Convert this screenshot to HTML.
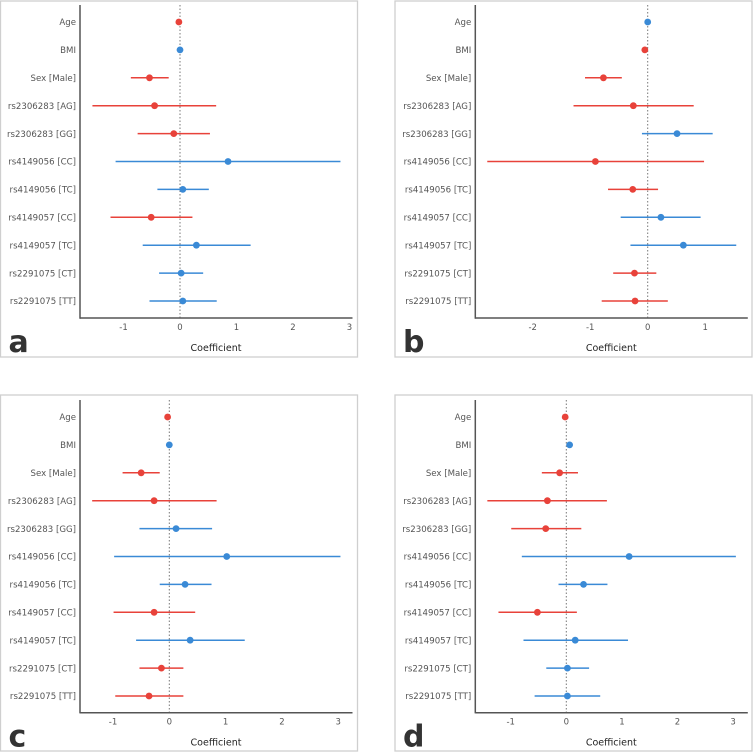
<!DOCTYPE html>
<html><head><meta charset="utf-8">
<style>
html,body{margin:0;padding:0;background:#fff;}
svg{display:block;font-family:"DejaVu Sans","Liberation Sans",sans-serif;}
</style></head>
<body>
<svg id="chart" width="753" height="753" viewBox="0 0 753 753"></svg>
<script>
const categories = ["Age","BMI","Sex [Male]","rs2306283 [AG]","rs2306283 [GG]","rs4149056 [CC]","rs4149056 [TC]","rs4149057 [CC]","rs4149057 [TC]","rs2291075 [CT]","rs2291075 [TT]"];
const ticks = [-3,-2,-1,0,1,2,3];

const estA = [-0.02,0,-0.54,-0.45,-0.11,0.85,0.05,-0.51,0.29,0.02,0.05];
const lowA = [-0.02,0,-0.87,-1.55,-0.75,-1.14,-0.40,-1.23,-0.66,-0.37,-0.54];
const highA = [-0.02,0,-0.20,0.64,0.53,2.84,0.51,0.22,1.25,0.41,0.65];

const estB = [0.0,-0.05,-0.77,-0.25,0.51,-0.91,-0.26,0.23,0.62,-0.23,-0.22];
const lowB = [0.0,-0.05,-1.09,-1.29,-0.10,-2.79,-0.69,-0.47,-0.30,-0.60,-0.80];
const highB = [0.0,-0.05,-0.45,0.80,1.13,0.98,0.18,0.92,1.54,0.15,0.35];

const estC = [-0.03,0,-0.50,-0.27,0.12,1.02,0.28,-0.27,0.37,-0.14,-0.36];
const lowC = [-0.03,0,-0.83,-1.37,-0.53,-0.98,-0.17,-0.99,-0.59,-0.53,-0.96];
const highC = [-0.03,0,-0.17,0.84,0.76,3.04,0.75,0.46,1.34,0.25,0.25];

const estD = [-0.02,0.06,-0.12,-0.34,-0.37,1.13,0.31,-0.52,0.16,0.02,0.02];
const lowD = [-0.02,0.06,-0.44,-1.42,-0.99,-0.80,-0.14,-1.22,-0.77,-0.36,-0.57];
const highD = [-0.02,0.06,0.21,0.73,0.27,3.05,0.74,0.19,1.11,0.41,0.61];

const panels = [
 {id:"a",fx:0.5,fy:1,ax:80,x0:180,ppu:56.5,top:5,bottom:318,est:estA,low:lowA,high:highA,tmin:-1,tmax:3},
 {id:"b",fx:395,fy:1,ax:475.3,x0:647.7,ppu:57.5,top:5,bottom:318,est:estB,low:lowB,high:highB,tmin:-2,tmax:1},
 {id:"c",fx:0.5,fy:395,ax:80,x0:169.3,ppu:56.3,top:400,bottom:712.7,est:estC,low:lowC,high:highC,tmin:-1,tmax:3},
 {id:"d",fx:395,fy:395,ax:475.3,x0:566.3,ppu:55.6,top:400,bottom:712.7,est:estD,low:lowD,high:highD,tmin:-1,tmax:3}
];
const RED="#e8423a", BLUE="#3a8ad6";
const NS="http://www.w3.org/2000/svg";
const svg=document.getElementById("chart");
function mk(tag,attrs,parent){const e=document.createElementNS(NS,tag);for(const k in attrs)e.setAttribute(k,attrs[k]);(parent||svg).appendChild(e);return e;}

panels.forEach(p=>{
  const g=mk("g",{});
  
  
  const fr=mk("rect",{x:p.fx,y:p.fy,width:357,height:356,fill:"none",stroke:"#cfcfcf","stroke-width":1.3},g);
  
  
  const right=p.ax+272.5;
  const xs=v=>p.x0+v*p.ppu;
  const ys=i=>p.top+17+i*27.9;
  const zl=mk("line",{x1:xs(0),x2:xs(0),y1:p.top,y2:p.bottom,stroke:"#777","stroke-width":1,"stroke-dasharray":"1.5,2"},g);
  
  
  const ya=mk("line",{x1:p.ax,x2:p.ax,y1:p.top,y2:p.bottom+0.7,stroke:"#555","stroke-width":1.5},g);
  
  
  const xa=mk("line",{x1:p.ax,x2:right,y1:p.bottom,y2:p.bottom,stroke:"#555","stroke-width":1.5},g);
  
  
  ticks.forEach(t=>{
    if(t<p.tmin||t>p.tmax)return;
    const tl=mk("text",{x:xs(t),y:p.bottom+12,"font-size":8.5,fill:"#555","text-anchor":"middle"},g);
    tl.textContent=String(t);
    
    
  });
  const xt=mk("text",{x:p.ax+136,y:p.bottom+33,"font-size":9.5,fill:"#222","text-anchor":"middle"},g);
  xt.textContent="Coefficient";
  
  
  const pl=mk("text",{x:p.fx+8,y:p.bottom+34,"font-size":30,"font-weight":"bold",fill:"#333"},g);
  pl.textContent=p.id;
  
  
  categories.forEach((c,i)=>{
    const y=ys(i);
    const lb=mk("text",{x:p.ax-4,y:y+3.2,"font-size":8.6,fill:"#555","text-anchor":"end"},g);
    lb.textContent=c;
    
    
    const col=p.est[i]<0?RED:BLUE;
    const ci=mk("line",{x1:xs(p.low[i]),x2:xs(p.high[i]),y1:y,y2:y,stroke:col,"stroke-width":1.5},g);
    
    
    const pt=mk("circle",{cx:xs(p.est[i]),cy:y,r:3.4,fill:col},g);
    
    
  });
});
</script>
</body></html>
